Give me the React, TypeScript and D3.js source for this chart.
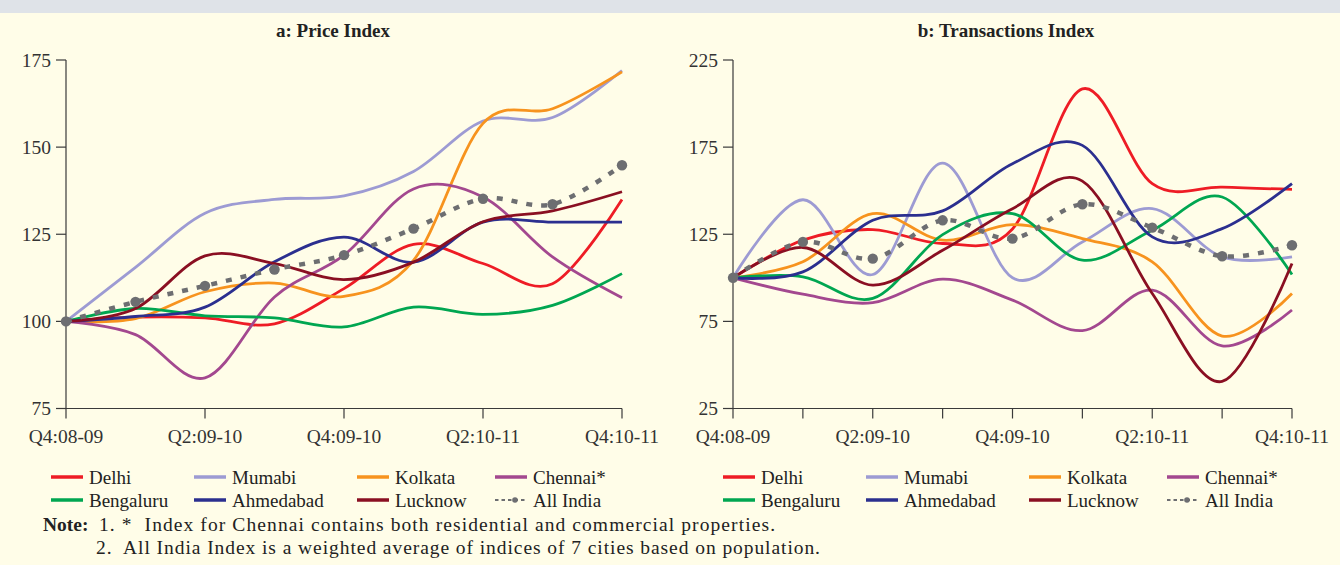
import React from "react";
import * as d3 from "d3";

const quarters = ["Q4:08-09", "Q1:09-10", "Q2:09-10", "Q3:09-10", "Q4:09-10", "Q1:10-11", "Q2:10-11", "Q3:10-11", "Q4:10-11"];
const cities = ["Delhi", "Mumabi", "Kolkata", "Chennai*", "Bengaluru", "Ahmedabad", "Lucknow", "All India"];
const colors = ["#ee1c25", "#9d9bd3", "#f7931e", "#a3488f", "#00a651", "#2b2f8f", "#8a0f22", "#6d6e71"];

// a: Price Index
const priceDelhi = [100, 101.2, 101, 99.3, 109.4, 122.1, 116.6, 110.8, 135];
const priceMumabi = [100, 115.5, 131, 135, 136, 143, 157.5, 158.5, 172];
const priceKolkata = [100, 100.8, 108.5, 111, 107.2, 117.5, 156.8, 161, 171.6];
const priceChennai = [100, 96.2, 83.8, 107, 119, 138, 135.7, 118.5, 106.8];
const priceBengaluru = [100, 103.7, 101.6, 101, 98.4, 104.1, 102, 104.6, 113.7];
const priceAhmedabad = [100, 101.4, 104.1, 117.1, 124.2, 117, 128.5, 128.5, 128.5];
const priceLucknow = [100, 103.7, 118.8, 116.6, 112, 117, 128.6, 131.7, 137.2];
const priceAllIndia = [100, 105.6, 110.2, 114.9, 119, 126.6, 135.2, 133.6, 144.8];
const priceTicks = [75, 100, 125, 150, 175];

// b: Transactions Index
const transDelhi = [100, 121.6, 127.7, 119.7, 128, 208.4, 154, 152, 150.8];
const transMumabi = [100, 144.8, 101.9, 165.8, 100, 120.6, 139.7, 112, 112];
const transKolkata = [100, 109.2, 136.8, 121.6, 130.5, 122.5, 109.2, 66.6, 91];
const transChennai = [100, 90.6, 85.7, 99.2, 87.2, 69.7, 92.9, 60.9, 81.5];
const transBengaluru = [100, 100.6, 88.2, 124.8, 136.8, 110.1, 127.3, 146.4, 101.9];
const transAhmedabad = [100, 103.4, 133, 138.4, 165.5, 176, 123.5, 128.2, 154];
const transLucknow = [100, 117.4, 95.8, 115.8, 139.7, 155.5, 91, 40.5, 108.2];
const transAllIndia = [100, 120.6, 111, 133, 122.5, 142.2, 128.8, 112.4, 118.7];
const transTicks = [25, 75, 125, 175, 225];

const priceSeries = [priceDelhi, priceMumabi, priceKolkata, priceChennai, priceBengaluru, priceAhmedabad, priceLucknow, priceAllIndia];
const transSeries = [transDelhi, transMumabi, transKolkata, transChennai, transBengaluru, transAhmedabad, transLucknow, transAllIndia];

const noteLine1 = "1. *  Index for Chennai contains both residential and commercial properties.";
const noteLine2 = "2.  All India Index is a weighted average of indices of 7 cities based on population.";

const FONT = "'Liberation Serif', 'DejaVu Serif', serif";
const AXIS = "#3a3a3a";

type PanelProps = {
  title: string;
  titleX: number;
  x0: number;
  x1: number;
  domain: [number, number];
  ticks: number[];
  series: number[][];
  everyTick: boolean;
  legendX: number;
};

function Panel({ title, titleX, x0, x1, domain, ticks, series, everyTick, legendX }: PanelProps) {
  const yTop = 60;
  const yBot = 408.5;
  const x = d3.scalePoint<string>().domain(quarters).range([x0, x1]);
  const y = d3.scaleLinear().domain(domain).range([yBot, yTop]);
  const line = d3
    .line<number>()
    .x((_, i) => x(quarters[i]) as number)
    .y((d) => y(d))
    .curve(d3.curveCatmullRom.alpha(0));

  const legendCols = [0, 143, 306, 444];
  return (
    <g>
      <text x={titleX} y={37} textAnchor="middle" fontFamily={FONT} fontWeight="bold" fontSize={19} fill="#222">
        {title}
      </text>
      {/* y axis */}
      <line x1={x0} x2={x0} y1={yTop} y2={yBot} stroke={AXIS} strokeWidth={1.2} />
      {ticks.map((t) => (
        <g key={t}>
          <line x1={x0 - 10} x2={x0} y1={y(t)} y2={y(t)} stroke={AXIS} strokeWidth={1.2} />
          <text x={x0 - 15} y={y(t) + 6.5} textAnchor="end" fontFamily={FONT} fontSize={19.5} fill="#333">
            {t}
          </text>
        </g>
      ))}
      {/* x axis */}
      <line x1={x0} x2={x1} y1={yBot} y2={yBot} stroke={AXIS} strokeWidth={1.2} />
      {quarters.map((q, i) => (
        <g key={q}>
          {(everyTick || i % 2 === 0) && (
            <line x1={x(q)} x2={x(q)} y1={yBot} y2={yBot + 10} stroke={AXIS} strokeWidth={1.2} />
          )}
          {i % 2 === 0 && (
            <text x={x(q)} y={443} textAnchor="middle" fontFamily={FONT} fontSize={19.5} fill="#333">
              {q}
            </text>
          )}
        </g>
      ))}
      {/* lines */}
      {series.map((s, k) => {
        const isAll = k === series.length - 1;
        return (
          <g key={k}>
            <path
              d={line(s) || ""}
              fill="none"
              stroke={colors[k]}
              strokeWidth={isAll ? 4.5 : 2.8}
              strokeDasharray={isAll ? "6,9" : undefined}
              strokeLinejoin="round"
            />
            {isAll &&
              s.map((v, i) => <circle key={i} cx={x(quarters[i])} cy={y(v)} r={5.2} fill={colors[k]} />)}
          </g>
        );
      })}
      {/* legend */}
      {cities.map((c, k) => {
        const col = k % 4;
        const row = Math.floor(k / 4);
        const lx = legendX + legendCols[col];
        const ly = 477 + row * 23;
        const isAll = k === cities.length - 1;
        return (
          <g key={c}>
            {isAll ? (
              <g>
                <line x1={lx} x2={lx + 32} y1={ly} y2={ly} stroke={colors[k]} strokeWidth={2} strokeDasharray="3.5,3" />
                <circle cx={lx + 20} cy={ly} r={2.8} fill={colors[k]} />
              </g>
            ) : (
              <line x1={lx} x2={lx + 32} y1={ly} y2={ly} stroke={colors[k]} strokeWidth={3.5} />
            )}
            <text x={lx + 38} y={ly + 6.5} fontFamily={FONT} fontSize={19} fill="#222">
              {c}
            </text>
          </g>
        );
      })}
    </g>
  );
}

export default function App() {
  return (
    <svg width={1340} height={565} style={{ position: "absolute", left: 0, top: 0, display: "block" }}>
      <rect x={0} y={0} width={1340} height={565} fill="#fffde8" />
      <rect x={0} y={0} width={1340} height={13} fill="#dfe3e8" />
      <Panel
        title="a: Price Index"
        titleX={333}
        x0={66}
        x1={622}
        domain={[75, 175]}
        ticks={priceTicks}
        series={priceSeries}
        everyTick={false}
        legendX={51}
      />
      <Panel
        title="b: Transactions Index"
        titleX={1006}
        x0={733}
        x1={1292}
        domain={[25, 225]}
        ticks={transTicks}
        series={transSeries}
        everyTick={true}
        legendX={723}
      />
      <text x={43} y={531} fontFamily={FONT} fontSize={19.5} fontWeight="bold" fill="#222">
        Note:
      </text>
      <text x={99} y={531} fontFamily={FONT} fontSize={19.5} fill="#222" textLength={676} lengthAdjust="spacing" xmlSpace="preserve">
        {noteLine1}
      </text>
      <text x={96} y={554} fontFamily={FONT} fontSize={19.5} fill="#222" textLength={724} lengthAdjust="spacing" xmlSpace="preserve">
        {noteLine2}
      </text>
    </svg>
  );
}
